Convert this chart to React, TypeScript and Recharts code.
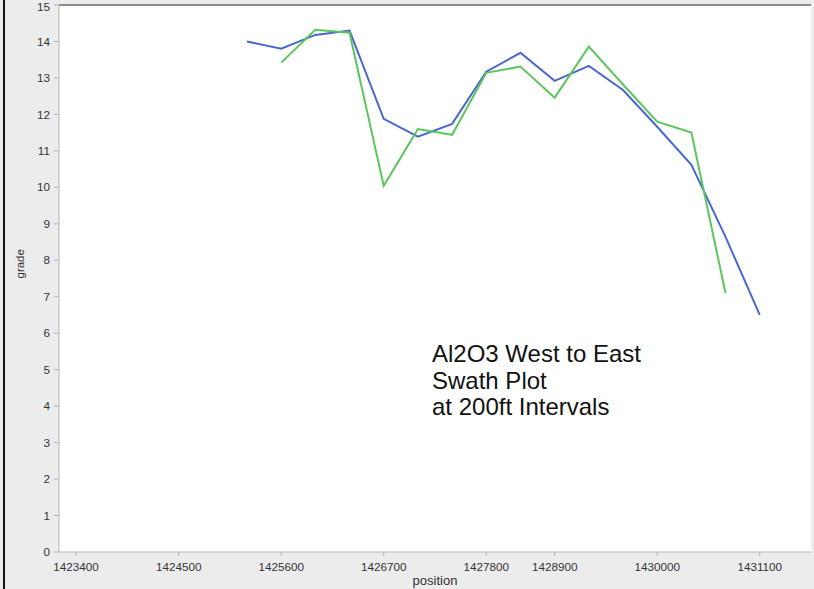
import React from 'react';
import { LineChart, Line, XAxis, YAxis, CartesianGrid, ReferenceLine } from 'recharts';

// slot index along the section (each slot is one swath)
const slots = [5, 6, 7, 8, 9, 10, 11, 12, 13, 14, 15, 16, 17, 18, 19, 20];
const modelGrade = [14.0, 13.8, 14.18, 14.3, 11.88, 11.39, 11.74, 13.17, 13.69, 12.92, 13.33, 12.67, 11.66, 10.62, 8.64, 6.5];
const sampleGrade = [null, 13.42, 14.32, 14.24, 10.04, 11.6, 11.44, 13.14, 13.31, 12.46, 13.86, 12.82, 11.8, 11.5, 7.1, null];

const tickSlots = [0, 3, 6, 9, 12, 14, 17, 20];
const tickLabels = ['1423400', '1424500', '1425600', '1426700', '1427800', '1428900', '1430000', '1431100'];
const gradeTicks = [0, 1, 2, 3, 4, 5, 6, 7, 8, 9, 10, 11, 12, 13, 14, 15];

const data = slots.map((s, i) => ({ slot: s, model: modelGrade[i], sample: sampleGrade[i] }));

const font = '"Liberation Sans", Arial, sans-serif';
const tickStyle = { fontSize: 11.7, fill: '#333', fontFamily: font };

export default function App() {
  const fmtX = (v: number) => tickLabels[tickSlots.indexOf(v)] ?? '';

  return (
    <div style={{ position: 'absolute', left: 0, top: 0, width: 814, height: 589, background: '#ececec' }}>
      <div style={{ position: 'absolute', left: 3, top: 0, width: 2, height: 589, background: '#111' }} />
      <LineChart width={814} height={589} data={data} margin={{ top: 5, right: 3, bottom: 0, left: 0 }}>
        <CartesianGrid horizontal={false} vertical={false} fill="#fff" />
        <XAxis
          dataKey="slot"
          type="number"
          domain={[-0.5, 21.5]}
          ticks={tickSlots}
          tickFormatter={fmtX}
          tick={tickStyle}
          stroke="#b5b5b5"
          tickSize={4}
          tickMargin={7}
          height={37}
          label={{ value: 'position', position: 'insideBottom', offset: 4, style: { fontSize: 13, fill: '#333', fontFamily: font } }}
        />
        <YAxis
          type="number"
          domain={[0, 15]}
          ticks={gradeTicks}
          tick={tickStyle}
          stroke="#b5b5b5"
          tickSize={5}
          tickMargin={4}
          width={59}
          label={{ value: 'grade', angle: -90, position: 'insideLeft', offset: 20, style: { fontSize: 11.5, fill: '#333', fontFamily: font } }}
        />
        <ReferenceLine y={15} stroke="#8a8a8a" strokeWidth={2} />
        <Line dataKey="model" stroke="#4a68cc" strokeWidth={2} dot={false} isAnimationActive={false} />
        <Line dataKey="sample" stroke="#5cc55c" strokeWidth={2} dot={false} isAnimationActive={false} />
      </LineChart>
      <div style={{ position: 'absolute', left: 432, top: 341, fontFamily: font, fontSize: 24, lineHeight: '26.7px', color: '#111' }}>
        Al2O3 West to East<br />Swath Plot<br />at 200ft Intervals
      </div>
    </div>
  );
}
